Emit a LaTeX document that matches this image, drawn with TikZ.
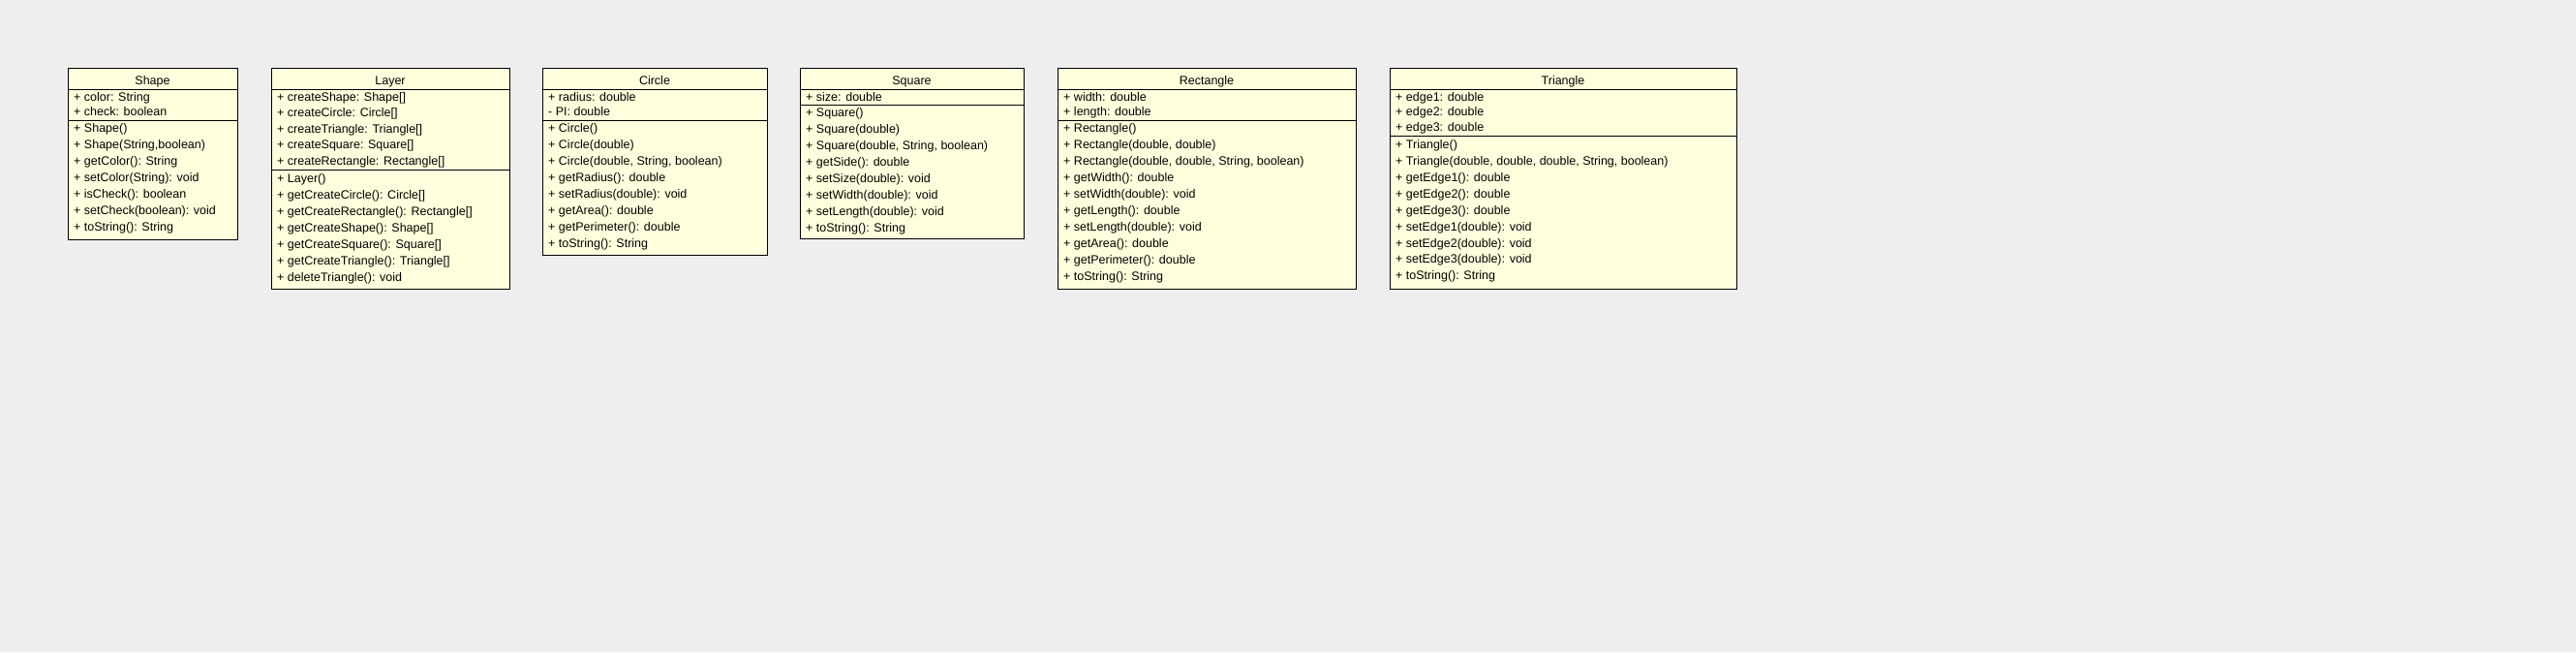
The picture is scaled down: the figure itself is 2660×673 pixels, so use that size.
\documentclass[tikz,border=0pt]{standalone}
\usepackage{fontspec}
\setmainfont{Liberation Sans}
\definecolor{bgc}{RGB}{238,238,238}
\definecolor{umlfill}{RGB}{255,255,221}
\newcommand{\umlfont}{\fontsize{12.5}{15}\selectfont}
\tikzset{
  frame/.style={draw=black, line width=1pt, fill=umlfill, inner sep=0pt, outer sep=0pt, anchor=north west},
  sepline/.style={draw=black, line width=0.9pt},
  txt/.style={anchor=base west, inner sep=0pt, font=\umlfont},
  ttl/.style={anchor=base, inner sep=0pt, font=\umlfont}
}
% name, L, R, title, S(attr/method separator), B(bottom), attrs, methods, attr spacing
\newcommand{\umlclass}[9]{%
  \node[frame, minimum width={(#3-#2)*1pt}, minimum height={(#6-70)*1pt}] (#1) at (#2,70) {};
  \draw[sepline] (#2,92) -- (#3,92);
  \draw[sepline] (#2,#5) -- (#3,#5);
  \node[ttl] (#1-t) at ({(#2+#3)/2},87) {#4};
  \foreach \t [count=\i] in {#7} {\node[txt] (#1-a\i) at ({#2+6},{104+(\i-1)*#9}) {\t};}
  \foreach \t [count=\i] in {#8} {\node[txt] (#1-m\i) at ({#2+6},{#5+12.8+(\i-1)*16.95}) {\t};}
}
\begin{document}
\begin{tikzpicture}[x=1pt,y=-1pt]
\fill[bgc] (0,0) rectangle (2660,673);
\useasboundingbox (0,0) rectangle (2660,673);
\umlclass{shape}{70}{245}{Shape}{124}{247}
  {{+ color: String},{+ check: boolean}}
  {{+ Shape()},{+ Shape(String,boolean)},{+ getColor(): String},{+ setColor(String): void},{+ isCheck(): boolean},{+ setCheck(boolean): void},{+ toString(): String}}{15.2}
\umlclass{layer}{280}{526}{Layer}{175.5}{298}
  {{+ createShape: Shape[]},{+ createCircle: Circle[]},{+ createTriangle: Triangle[]},{+ createSquare: Square[]},{+ createRectangle: Rectangle[]}}
  {{+ Layer()},{+ getCreateCircle(): Circle[]},{+ getCreateRectangle(): Rectangle[]},{+ getCreateShape(): Shape[]},{+ getCreateSquare(): Square[]},{+ getCreateTriangle(): Triangle[]},{+ deleteTriangle(): void}}{16.6}
\umlclass{circle}{560}{792}{Circle}{124}{263}
  {{+ radius: double},{- PI: double}}
  {{+ Circle()},{+ Circle(double)},{+ Circle(double, String, boolean)},{+ getRadius(): double},{+ setRadius(double): void},{+ getArea(): double},{+ getPerimeter(): double},{+ toString(): String}}{15.2}
\umlclass{square}{826}{1057}{Square}{108}{246.5}
  {{+ size: double}}
  {{+ Square()},{+ Square(double)},{+ Square(double, String, boolean)},{+ getSide(): double},{+ setSize(double): void},{+ setWidth(double): void},{+ setLength(double): void},{+ toString(): String}}{15.2}
\umlclass{rectangle}{1092}{1400}{Rectangle}{124}{298}
  {{+ width: double},{+ length: double}}
  {{+ Rectangle()},{+ Rectangle(double, double)},{+ Rectangle(double, double, String, boolean)},{+ getWidth(): double},{+ setWidth(double): void},{+ getLength(): double},{+ setLength(double): void},{+ getArea(): double},{+ getPerimeter(): double},{+ toString(): String}}{15.2}
\umlclass{triangle}{1435}{1793}{Triangle}{140.5}{298}
  {{+ edge1: double},{+ edge2: double},{+ edge3: double}}
  {{+ Triangle()},{+ Triangle(double, double, double, String, boolean)},{+ getEdge1(): double},{+ getEdge2(): double},{+ getEdge3(): double},{+ setEdge1(double): void},{+ setEdge2(double): void},{+ setEdge3(double): void},{+ toString(): String}}{15.7}
\end{tikzpicture}
\end{document}
